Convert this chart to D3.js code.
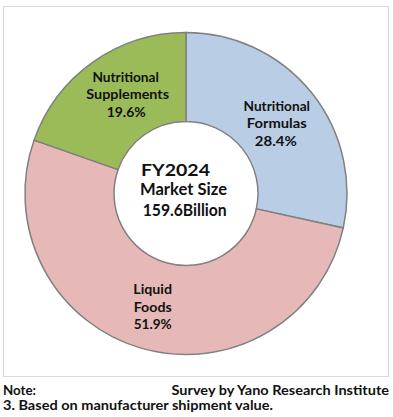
<!DOCTYPE html>
<html><head><meta charset="utf-8">
<script src="https://cdn.jsdelivr.net/npm/d3@7"></script>
<style>
html,body{margin:0;padding:0;background:#fff;}
text{font-family:"Lato","DejaVu Sans",sans-serif;font-weight:bold;fill:#111;}
</style></head>
<body>
<svg id="c" width="393" height="417"></svg>
<script>
const categories = ["Nutritional Formulas", "Liquid Foods", "Nutritional Supplements"];
const labelLines = [["Nutritional", "Formulas"], ["Liquid", "Foods"], ["Nutritional", "Supplements"]];
const shares = [28.4, 51.9, 19.6];
const colors = ["#b9cde5", "#e6b9b8", "#9bbb59"];
const centerLines = ["FY2024", "Market Size", "159.6Billion"];
const noteLeft = "Note:";
const noteRight = "Survey by Yano Research Institute";
const noteLine2 = "3. Based on manufacturer shipment value.";

// styling: text widths to mimic the wide geometric font of the original
const widths = {"Nutritional":66.5,"Supplements":82.7,"19.6%":39,"Formulas":60,"28.4%":42,
  "Liquid":38.7,"Foods":38,"51.9%":38,"FY2024":69,"Market Size":87,"159.6Billion":84};
const labelNudge = [[0,3],[-1.5,1],[8,-4]];
const lineNudgeX = [[0,0,-1],[0,0,0],[-1,1,-0.5]];

const svg = d3.select("#c");
svg.append("rect").attr("x",3.5).attr("y",6.5).attr("width",385).attr("height",370)
  .attr("fill","#fff").attr("stroke","#d9d9d9").attr("stroke-width",1);

const cx = 186, cy = 193.5, rOut = 161, rIn = 72;
const g = svg.append("g").attr("transform",`translate(${cx},${cy})`);
const pie = d3.pie().sort(null).value(d=>d)(shares);
const arc = d3.arc().innerRadius(rIn).outerRadius(rOut);
g.selectAll("path").data(pie).join("path")
  .attr("d",arc).attr("fill",(d,i)=>colors[i])
  .attr("stroke","#808080").attr("stroke-width",1.5);

const lh = 17.5;
pie.forEach((d,i)=>{
  const [x0,y0] = arc.centroid(d);
  const x = x0 + labelNudge[i][0], y = y0 + labelNudge[i][1];
  const lines = labelLines[i].concat([d3.format(".1f")(shares[i])+"%"]);
  lines.forEach((s,k)=>{
    g.append("text").attr("text-anchor","middle").attr("font-size",13.5)
      .attr("x",x+lineNudgeX[i][k]).attr("y",y+(k-1)*lh+5)
      .attr("textLength",widths[s]).attr("lengthAdjust","spacingAndGlyphs").text(s);
  });
});

const centerX = [-10.5, -2.5, -1.3];
const centerY = [170, 189, 209.5];
centerLines.forEach((s,k)=>{
  g.append("text").attr("text-anchor","middle").attr("font-size",17)
    .attr("x",centerX[k]).attr("y",centerY[k]-cy+6)
    .attr("textLength",widths[s]).attr("lengthAdjust","spacingAndGlyphs").text(s);
});

svg.append("text").attr("x",3).attr("y",394.5).attr("font-size",12.5)
  .attr("textLength",33).attr("lengthAdjust","spacingAndGlyphs").text(noteLeft);
svg.append("text").attr("x",171.5).attr("y",394.5).attr("font-size",12.5)
  .attr("textLength",217.5).attr("lengthAdjust","spacingAndGlyphs").text(noteRight);
svg.append("text").attr("x",3).attr("y",409.5).attr("font-size",12.5)
  .attr("textLength",270).attr("lengthAdjust","spacingAndGlyphs").text(noteLine2);
</script>
</body></html>
